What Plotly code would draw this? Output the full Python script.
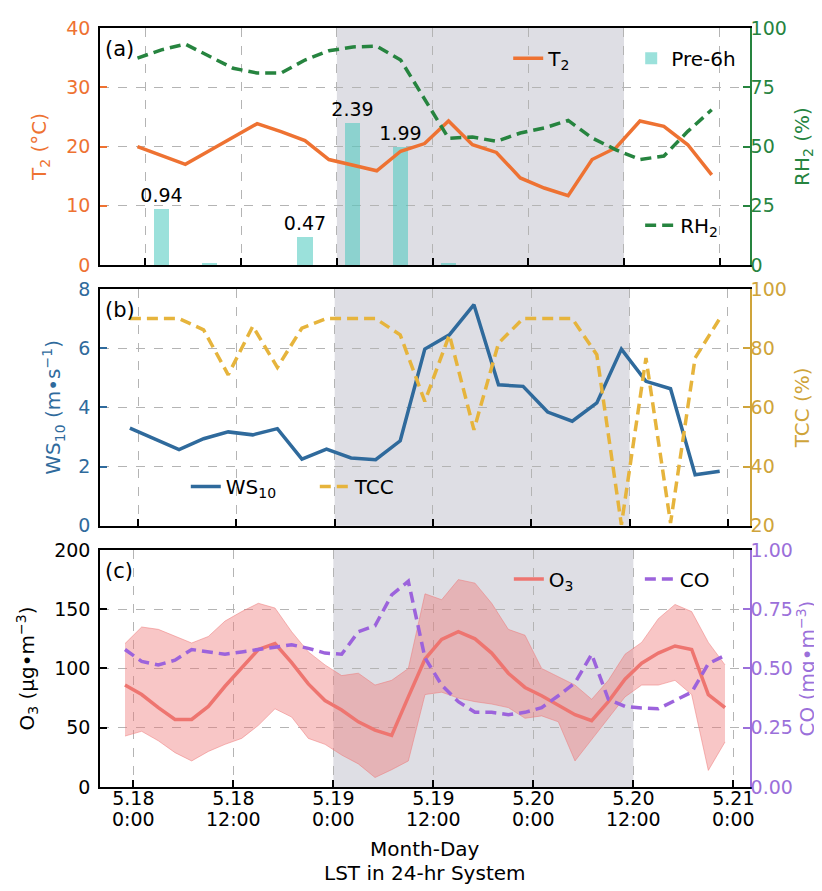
import plotly.graph_objects as go

FONT = "DejaVu Sans"

# ---------------- data ----------------
# 3-hourly model output (hours since 5.18 0:00 LST)
t_3h = [-1, 2, 5, 8, 11, 14, 17, 20, 23, 26, 29, 32, 35, 38, 41, 44, 47, 50, 53, 56, 59, 62, 65, 68, 71]
t2_vals = [20.0, 18.5, 17.0, 19.3, 21.6, 23.85, 22.5, 21.0, 17.8, 16.8, 15.9, 19.2, 20.5,
           24.3, 20.3, 19.0, 14.7, 13.0, 11.7, 17.8, 19.8, 24.3, 23.4, 20.3, 15.2]
rh2_vals = [87.3, 90.8, 93.2, 88.0, 83.0, 81.0, 81.0, 86.5, 90.4, 92.0, 92.3, 86.5, 70.0,
            53.5, 54.0, 52.2, 55.7, 57.8, 61.0, 53.6, 48.6, 44.5, 46.0, 56.4, 65.5]
ws10_vals = [3.30, 2.93, 2.57, 2.94, 3.17, 3.07, 3.28, 2.25, 2.59, 2.29, 2.23, 2.87, 5.97,
             6.45, 7.47, 4.76, 4.71, 3.84, 3.53, 4.15, 5.97, 4.88, 4.63, 1.72, 1.84]
tcc_vals = [90, 90, 90, 86.2, 71, 87.4, 73.5, 86.8, 90, 90, 90, 84.5, 62,
            84.5, 52.4, 81.7, 90, 90, 90, 77.8, 20.3, 76.7, 20.9, 76.7, 90]

# 6-hour accumulated precipitation (mm)
t_pre = [2, 8, 14, 20, 26, 32, 38, 44, 50, 56, 62, 68]
pre6h = [0.94, 0.03, 0.0, 0.47, 2.39, 1.99, 0.03, 0.0, 0.0, 0.0, 0.0, 0.0]

# observations (2-hourly samples)
t_obs = [-1, 1, 3, 5, 7, 9, 11, 13, 15, 17, 19, 21, 23, 25, 27, 29, 31, 33, 35,
         37, 39, 41, 43, 45, 47, 49, 51, 53, 55, 57, 59, 61, 63, 65, 67, 69, 71]
o3_mean = [86, 78, 67, 57, 57, 68, 85, 101, 116, 121, 105, 87, 73, 65, 55, 48, 43.5, 76, 108,
           124.5, 131, 125, 113, 96, 84, 77, 69, 61, 56, 72, 91, 104.5, 113, 119, 116, 78, 67]
o3_upper = [121, 135, 133, 127, 121.5, 127, 140, 148, 155, 151, 131, 114, 103, 94, 96, 86, 90, 100, 163,
            158, 175, 172, 155, 133, 128, 100, 93, 86, 74, 90, 112, 122, 142, 154, 148, 122, 103]
o3_lower = [43, 47, 39, 29, 22, 30, 36, 41, 52, 66, 59, 41, 36, 27, 19.5, 8, 14.6, 22, 78,
            80, 75, 72, 70, 67, 58, 60, 55, 22, 40, 58, 76, 86, 86, 90, 78, 14, 38]
co_vals = [0.58, 0.53, 0.515, 0.535, 0.58, 0.57, 0.56, 0.57, 0.58, 0.59, 0.60, 0.585, 0.565,
           0.56, 0.655, 0.68, 0.81, 0.868, 0.545, 0.43, 0.36, 0.315, 0.315, 0.305, 0.315,
           0.335, 0.385, 0.44, 0.56, 0.37, 0.34, 0.333, 0.33, 0.365, 0.40, 0.52, 0.555]

tick_vals = [0, 12, 24, 36, 48, 60, 72]
tick_day = ["5.18", "5.18", "5.19", "5.19", "5.20", "5.20", "5.21"]
tick_time = ["0:00", "12:00", "0:00", "12:00", "0:00", "12:00", "0:00"]
shade_start, shade_end = 24, 60

# ---------------- style ----------------
C_T2 = "#ee7232"
C_RH = "#26843f"
C_PRE = "rgba(72,200,190,0.55)"
C_WS = "#2f6a9c"
C_TCC = "#e6b43c"
C_TCC_AX = "#cfa43a"
C_O3 = "#ee7570"
C_BAND = "rgba(238,120,120,0.42)"
C_CO = "#9c63dc"
C_SHADE = "#dedee4"
GRID = "#b4b4b4"

pre_text = [f"{v:.2f}" if v > 0.2 else "" for v in pre6h]

fig = go.Figure()

# panel (a)
fig.add_trace(go.Bar(x=t_pre, y=pre6h, xaxis="x", yaxis="y", width=1.9,
                     marker=dict(color=C_PRE, line_width=0), name="Pre-6h",
                     legend="legend", legendrank=2,
                     text=pre_text, textposition="outside", cliponaxis=False,
                     constraintext="none",
                     textfont=dict(size=19, color="black", family=FONT)))
fig.add_trace(go.Scatter(x=t_3h, y=t2_vals, xaxis="x", yaxis="y2", mode="lines",
                         line=dict(color=C_T2, width=3.5), name="T<sub>2</sub>",
                         legend="legend", legendrank=1))
fig.add_trace(go.Scatter(x=t_3h, y=rh2_vals, xaxis="x", yaxis="y3", mode="lines",
                         line=dict(color=C_RH, width=3.5, dash="11px,6px"),
                         name="RH<sub>2</sub>", legend="legend2"))

# panel (b)
fig.add_trace(go.Scatter(x=t_3h, y=ws10_vals, xaxis="x2", yaxis="y4", mode="lines",
                         line=dict(color=C_WS, width=3.5), name="WS<sub>10</sub>",
                         legend="legend3"))
fig.add_trace(go.Scatter(x=t_3h, y=tcc_vals, xaxis="x2", yaxis="y5", mode="lines",
                         line=dict(color=C_TCC, width=3.5, dash="11px,6px"),
                         name="TCC", legend="legend3"))

# panel (c)
fig.add_trace(go.Scatter(x=t_obs, y=o3_lower, xaxis="x3", yaxis="y6", mode="lines",
                         line=dict(color="rgba(238,120,120,0.5)", width=1),
                         showlegend=False, hoverinfo="skip"))
fig.add_trace(go.Scatter(x=t_obs, y=o3_upper, xaxis="x3", yaxis="y6", mode="lines",
                         line=dict(color="rgba(238,120,120,0.5)", width=1),
                         fill="tonexty", fillcolor=C_BAND,
                         showlegend=False, hoverinfo="skip"))
fig.add_trace(go.Scatter(x=t_obs, y=o3_mean, xaxis="x3", yaxis="y6", mode="lines",
                         line=dict(color=C_O3, width=3.5), name="O<sub>3</sub>",
                         legend="legend4"))
fig.add_trace(go.Scatter(x=t_obs, y=co_vals, xaxis="x3", yaxis="y7", mode="lines",
                         line=dict(color=C_CO, width=3.5, dash="11px,6px"),
                         name="CO", legend="legend4"))
# empty traces that register the tick-label axes (day line and time line)
fig.add_trace(go.Scatter(x=[], y=[], xaxis="x4", yaxis="y6", mode="lines",
                         showlegend=False, hoverinfo="skip"))
fig.add_trace(go.Scatter(x=[], y=[], xaxis="x5", yaxis="y6", mode="lines",
                         showlegend=False, hoverinfo="skip"))

# ---------------- layout ----------------
dom_a = [0.6877, 1.0]
dom_b = [0.3443, 0.6561]
dom_c = [0.0, 0.3123]


def xax(rng, anchor, show_labels):
    return dict(range=rng, anchor=anchor, domain=[0, 1], tickvals=tick_vals,
                ticktext=tick_day, showticklabels=show_labels,
                ticks="inside", ticklen=7, tickwidth=1.5, tickcolor="black",
                showline=True, linecolor="black", linewidth=1.5, mirror=True,
                showgrid=True, gridcolor=GRID, griddash="dash", gridwidth=1,
                zeroline=False, tickfont=dict(family=FONT, size=19, color="black"))


def label_axis(rng, texts, standoff):
    return dict(range=rng, anchor="y6", overlaying="x3", side="bottom",
                tickvals=tick_vals, ticktext=texts, showline=False, ticks="",
                showgrid=False, zeroline=False, ticklabelstandoff=standoff,
                tickfont=dict(family=FONT, size=19, color="black"))


def yax(rng, dtick, color, title, side="left", overlay=None, domain=None,
        grid=False, line_color=None, fmt=None, standoff=12):
    d = dict(range=rng, dtick=dtick, side=side, ticks="inside", ticklen=7,
             tickwidth=1.5, tickcolor=color, showline=True,
             linecolor=line_color or color, linewidth=1.5,
             tickfont=dict(family=FONT, size=19, color=color),
             title=dict(text=title, font=dict(family=FONT, size=20, color=color),
                        standoff=standoff),
             showgrid=grid, gridcolor=GRID, griddash="dash", gridwidth=1,
             zeroline=False, ticklabelstandoff=4 if side == "left" else -5)
    if overlay:
        d["overlaying"] = overlay
    if domain:
        d["domain"] = domain
    if fmt:
        d["tickformat"] = fmt
    return d


leg_common = dict(xanchor="left", yanchor="middle", orientation="h", traceorder="normal",
                  bgcolor="rgba(0,0,0,0)", font=dict(family=FONT, size=20, color="black"))

x3_range = [-4.0, 74.0]

layout = dict(
    width=822, height=891,
    margin=dict(l=92, r=80, t=20, b=112, autoexpand=False),
    paper_bgcolor="white", plot_bgcolor="white",
    font=dict(family=FONT, size=19, color="black"),
    template="none",
    bargap=0,
    xaxis=xax([-5.7, 75.8], "y", False),
    xaxis2=xax([-4.65, 74.7], "y4", False),
    xaxis3=xax(x3_range, "y6", False),
    xaxis4=label_axis(x3_range, tick_day, -2),
    xaxis5=label_axis(x3_range, tick_time, 19),
    # panel (a): hidden precipitation axis as base (carries the grid)
    yaxis=dict(domain=dom_a, range=[0, 4], anchor="x", dtick=1, showticklabels=False,
               ticks="", showline=False, showgrid=True, gridcolor=GRID,
               griddash="dash", gridwidth=1, zeroline=False),
    yaxis2=yax([0, 40], 10, C_T2, "T<sub>2</sub> (°C)", overlay="y",
               line_color="black", standoff=14),
    yaxis3=yax([0, 100], 25, C_RH, "RH<sub>2</sub> (%)", side="right", overlay="y",
               standoff=9),
    yaxis4=yax([0, 8], 2, C_WS, "WS<sub>10</sub> (m•s<sup>−1</sup>)", domain=dom_b,
               grid=True, line_color="black", standoff=12),
    yaxis5=yax([20, 100], 20, C_TCC_AX, "TCC (%)", side="right", overlay="y4",
               standoff=9),
    yaxis6=yax([0, 200], 50, "black", "O<sub>3</sub> (μg•m<sup>−3</sup>)", domain=dom_c,
               grid=True, standoff=14),
    yaxis7=yax([0, 1], 0.25, "#9b70da", "CO (mg•m<sup>−3</sup>)", side="right",
               overlay="y6", fmt=".2f", standoff=8),
    legend=dict(x=0.628, y=0.960, entrywidth=78, **leg_common),
    legend2=dict(x=0.831, y=0.740, **leg_common),
    legend3=dict(x=0.132, y=0.396, entrywidth=84, **leg_common),
    legend4=dict(x=0.629, y=0.274, entrywidth=86, **leg_common),
    showlegend=True,
)
fig.update_layout(**layout)

# episode shading
for xr, yr in (("x", "y"), ("x2", "y4"), ("x3", "y6")):
    fig.add_shape(type="rect", xref=xr, yref=f"{yr} domain", x0=shade_start, x1=shade_end,
                  y0=0, y1=1, fillcolor=C_SHADE, line_width=0, layer="below")

# panel labels
for lab, xr, yr in (("(a)", "x", "y"), ("(b)", "x2", "y4"), ("(c)", "x3", "y6")):
    fig.add_annotation(text=lab, xref=f"{xr} domain", yref=f"{yr} domain", x=0.004, y=0.97,
                       xanchor="left", yanchor="top", showarrow=False,
                       font=dict(family=FONT, size=21, color="black"))

fig.add_annotation(text="Month-Day", xref="paper", yref="paper",
                   x=0.5, y=-0.0817, xanchor="center", yanchor="middle", showarrow=False,
                   font=dict(family=FONT, size=20, color="black"))
fig.add_annotation(text="LST in 24-hr System", xref="paper", yref="paper",
                   x=0.5, y=-0.1133, xanchor="center", yanchor="middle", showarrow=False,
                   font=dict(family=FONT, size=20, color="black"))

fig.write_html("out.html")
